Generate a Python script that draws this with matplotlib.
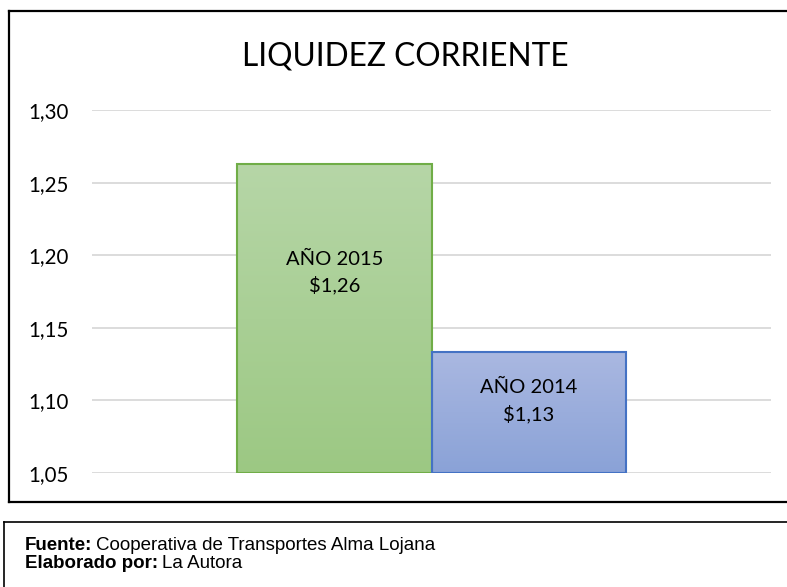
import numpy as np
import matplotlib.pyplot as plt
from matplotlib.lines import Line2D
from matplotlib.colors import LinearSegmentedColormap

# data
years = ["AÑO 2015", "AÑO 2014"]
values = [1.2625, 1.1335]
value_labels = ["$1,26", "$1,13"]
yticks = [1.05, 1.10, 1.15, 1.20, 1.25, 1.30]
ytick_labels = ["1,05", "1,10", "1,15", "1,20", "1,25", "1,30"]

# style
face_top = ["#b6d6a7", "#aab8e1"]
face_bot = ["#9cc883", "#8aa2d7"]
edges = ["#70ad47", "#4472c4"]
label_y = [1.188, 1.0996]
font = "Lato"

fig = plt.figure(figsize=(7.87, 5.87), dpi=100)
W, H = 787, 587

ax = fig.add_axes([92 / W, 1 - 473 / H, (771 - 92) / W, (473 - 110) / H])
bw = 1.0
margin = 145 / 194.5

for y in yticks:
    ax.axhline(y, color="#d9d9d9", lw=1.3, zorder=0)

for i, (lab, v) in enumerate(zip(years, values)):
    x0, x1 = i - bw / 2, i + bw / 2
    cmap = LinearSegmentedColormap.from_list("g", [face_bot[i], face_top[i]])
    grad = np.linspace(0, 1, 256).reshape(-1, 1)
    im = ax.imshow(grad, cmap=cmap, origin="lower", aspect="auto",
                   extent=[x0, x1, 1.05, v], zorder=1)
    bar = ax.bar(i, v - 1.05, bottom=1.05, width=bw, facecolor="none",
                 edgecolor=edges[i], lw=1.5, zorder=2)
    im.set_clip_path(bar.patches[0])
    ax.text(i, label_y[i], lab + "\n" + value_labels[i], ha="center", va="center",
            fontsize=14.5, family=font, linespacing=1.55, color="#000000", zorder=3)

ax.set_xlim(-0.5 - margin, 1.5 + margin)
ax.set_ylim(1.05, 1.30)
for s in ax.spines.values():
    s.set_visible(False)
ax.set_xticks([])
ax.set_yticks(yticks)
ax.set_yticklabels(ytick_labels, family=font, fontsize=14.8)
ax.tick_params(axis="y", length=0, pad=17)

fig.text(405 / W, 1 - 56 / H, "LIQUIDEZ CORRIENTE", ha="center", va="center",
         fontsize=22.8, family=font)

# chart frame
fx0, fy0, fy1 = 9 / W, 1 - 11 / H, 1 - 502 / H
fig.add_artist(Line2D([fx0, 1.01], [fy0, fy0], color="black", lw=1.6))
fig.add_artist(Line2D([fx0, 1.01], [fy1, fy1], color="black", lw=1.6))
fig.add_artist(Line2D([fx0, fx0], [fy0, fy1], color="black", lw=1.6))

# footer box
bx0, by0 = 4 / W, 1 - 522 / H
fig.add_artist(Line2D([bx0, 1.01], [by0, by0], color="black", lw=1.2))
fig.add_artist(Line2D([bx0, bx0], [by0, -0.01], color="black", lw=1.2))

foot_font = "Liberation Sans"
t = fig.text(25 / W, 1 - 546 / H, "Fuente:", ha="left", va="center",
             fontsize=13.5, family=foot_font, weight="bold")
fig.canvas.draw()
bb = t.get_window_extent()
fig.text((bb.x1 + 4) / W, 1 - 546 / H, "Cooperativa de Transportes Alma Lojana",
         ha="left", va="center", fontsize=13.5, family=foot_font)
t2 = fig.text(25 / W, 1 - 564 / H, "Elaborado por:", ha="left", va="center",
              fontsize=13.5, family=foot_font, weight="bold")
bb2 = t2.get_window_extent()
fig.text((bb2.x1 + 4) / W, 1 - 564 / H, "La Autora", ha="left", va="center",
         fontsize=13.5, family=foot_font)

fig.savefig("out.png", dpi=100)
